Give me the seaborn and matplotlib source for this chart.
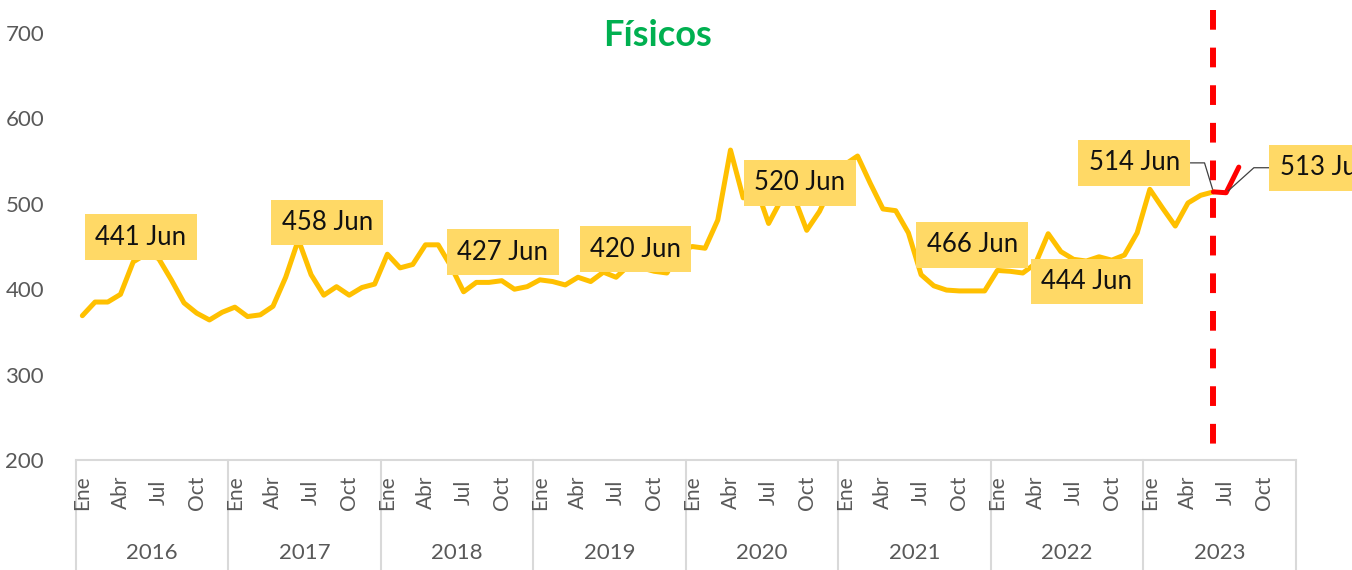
import numpy as np
import pandas as pd
import seaborn as sns
import matplotlib.pyplot as plt

# monthly values, Ene 2016 .. Ago 2023
years = [2016, 2017, 2018, 2019, 2020, 2021, 2022, 2023]
month_names = ['Ene', 'Abr', 'Jul', 'Oct']
fisicos = [
    369, 385, 385, 394, 432, 441, 436, 411, 384, 372, 364, 373,   # 2016
    379, 368, 370, 380, 414, 458, 417, 393, 403, 393, 402, 406,   # 2017
    441, 425, 429, 452, 452, 427, 397, 408, 408, 410, 400, 403,   # 2018
    411, 409, 405, 414, 409, 420, 414, 428, 425, 421, 419, 445,   # 2019
    450, 448, 481, 563, 507, 520, 477, 505, 508, 469, 491, 522,   # 2020
    546, 556, 524, 494, 492, 466, 417, 404, 399, 398, 398, 398,   # 2021
    422, 421, 419, 430, 465, 444, 435, 433, 438, 434, 440, 466,   # 2022
    517, 495, 474, 501, 510, 514, 513, 543,                       # 2023
]
last_real = 89  # Jun 2023, where the red part starts
label_idx = [5, 17, 29, 41, 53, 65, 77, 89, 90]
label_mes = ['Jun', 'Jun', 'Jun', 'Jun', 'Jun', 'Jun', 'Jun', 'Jun', 'Jul']

df = pd.DataFrame({'i': np.arange(len(fisicos)), 'v': fisicos})

sns.set_theme(style='white')
plt.rcParams['font.family'] = ['Lato', 'DejaVu Sans']

fig = plt.figure(figsize=(13.52, 5.70), dpi=100)
ax = fig.add_axes([76 / 1352, 1 - 460 / 570, 1220 / 1352, 450 / 570])

sns.lineplot(data=df.iloc[:last_real + 1], x='i', y='v', color='#FFC000',
             lw=3.6, ax=ax, solid_joinstyle='round', solid_capstyle='round', zorder=3)
sns.lineplot(data=df.iloc[last_real:], x='i', y='v', color='#FF0000',
             lw=3.6, ax=ax, solid_joinstyle='round', solid_capstyle='round', zorder=4)

ax.set_xlim(-0.5, 12 * len(years) - 0.5)
ax.set_ylim(200, 727)
ax.plot([last_real, last_real], [727, 200], color='#FF0000', lw=4.3,
        dashes=(3.3, 3.0), zorder=5, clip_on=False)

ax.set_yticks(range(200, 701, 100))
ax.tick_params(axis='y', left=False, labelsize=16, labelcolor='#595959', pad=17)
ax.set_xticks([])
ax.set_xlabel('')
ax.set_ylabel('')
for s in ['left', 'top', 'right']:
    ax.spines[s].set_visible(False)
ax.spines['bottom'].set_color('#D9D9D9')
ax.spines['bottom'].set_linewidth(1.5)

# category axis: months + years
tr = ax.get_xaxis_transform()
for k, yr in enumerate(years):
    for m, name in enumerate(month_names):
        ax.text(12 * k + 3 * m, -0.072, name, transform=tr, rotation=90,
                ha='center', va='center', fontsize=15, color='#595959')
    ax.text(12 * k + 5.5, -0.207, str(yr), transform=tr, ha='center',
            va='center', fontsize=16, color='#595959')
for k in range(len(years) + 1):
    ax.plot([12 * k - 0.5] * 2, [0, -0.25], transform=tr, color='#D9D9D9',
            lw=1.5, clip_on=False)

# data labels
offsets = [(-5, 17), (29, 17), (52, 14), (32, 23), (44, 4), (64, -12),
           (26, -30), (-79, 29), (95, 25)]
for n, (i, mes) in enumerate(zip(label_idx, label_mes)):
    dx, dy = offsets[n]
    kw = {}
    if n == 7:
        kw = dict(arrowprops=dict(arrowstyle='-', color='#404040', lw=0.9,
                                  relpos=(1, 0.5), shrinkA=0, shrinkB=2,
                                  connectionstyle='angle,angleA=0,angleB=107,rad=0'))
    elif n == 8:
        kw = dict(arrowprops=dict(arrowstyle='-', color='#404040', lw=0.9,
                                  relpos=(0, 0.5), shrinkA=0, shrinkB=2,
                                  connectionstyle='angle,angleA=180,angleB=42,rad=0'))
    ax.annotate(f'{fisicos[i]} {mes}', xy=(i, fisicos[i]), xytext=(dx, dy),
                textcoords='offset pixels', ha='center', va='center',
                fontsize=18.5, color='#111111', zorder=6,
                bbox=dict(boxstyle='square,pad=0.4', fc='#FFD966', ec='none'),
                annotation_clip=False, **kw)

fig.text(657 / 1352, 1 - 36 / 570, 'Físicos', ha='center', va='center',
         color='#00B050', fontsize=26, fontweight='bold')

fig.savefig('out.png', dpi=100)
